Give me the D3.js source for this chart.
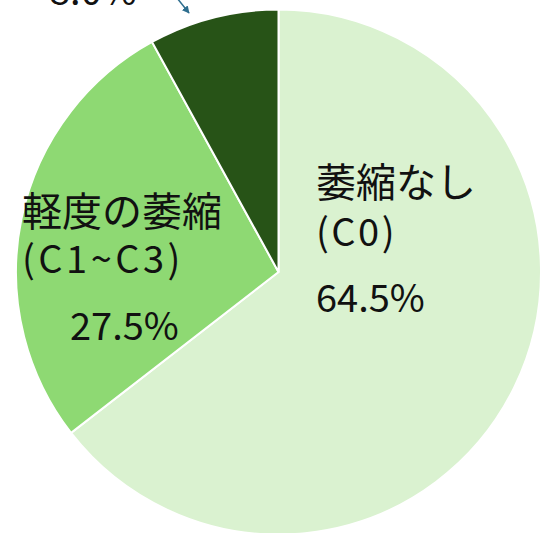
<!DOCTYPE html>
<html>
<head>
<meta charset="utf-8">
<script src="https://cdn.jsdelivr.net/npm/d3@7"></script>
<style>
  body { margin: 0; background: #fff; }
  svg { display: block; }
</style>
</head>
<body>
<div class="chart"></div>
<script>
// Données du graphique
const categories = ['萎縮なし (C0)', '軽度の萎縮 (C1~C3)', 'その他'];
const values = [64.5, 27.5, 8.0];
const valueLabels = ['64.5%', '27.5%', '8.0%'];
const colors = ['#daf2d0', '#8ed973', '#275317'];

// Paramètres
const width = 544;
const height = 533;
const cx = 278.5;
const cy = 272;
const radius = 262.5;

const svg = d3.select('.chart')
  .append('svg')
  .attr('width', width)
  .attr('height', height)
  .style('font-family', '"Noto Sans CJK JP", "Noto Sans", sans-serif');

const pie = d3.pie().sort(null).value(d => d);
const arc = d3.arc().innerRadius(0).outerRadius(radius);

const g = svg.append('g').attr('transform', `translate(${cx}, ${cy})`);

g.selectAll('path')
  .data(pie(values))
  .join('path')
    .attr('d', arc)
    .attr('fill', (d, i) => colors[i])
    .attr('stroke', '#fff')
    .attr('stroke-width', 2);

// Etiquettes (positions de mise en page)
const labelLines = [
  { text: '萎縮なし', x: 316, y: 197, size: 40, ls: 0 },
  { text: '(C0)', x: 316, y: 246, size: 38, ls: 2.5 },
  { text: valueLabels[0], x: 316, y: 312, size: 38, ls: 0 },
  { text: '軽度の萎縮', x: 22, y: 226, size: 40, ls: 0 },
  { text: '(C1~C3)', x: 22, y: 273, size: 38, ls: 3.5 },
  { text: valueLabels[1], x: 70, y: 340, size: 38, ls: 0 },
  { text: valueLabels[2], x: 49, y: 5, size: 38, ls: 0 }
];

svg.append('g')
  .selectAll('text')
  .data(labelLines)
  .join('text')
    .attr('x', d => d.x)
    .attr('y', d => d.y)
    .attr('fill', '#111')
    .style('font-size', d => d.size + 'px')
    .style('letter-spacing', d => d.ls + 'px')
    .text(d => d.text);

// Ligne de rappel pour 8.0%
svg.append('defs').append('marker')
  .attr('id', 'arrow')
  .attr('viewBox', '0 0 10 10')
  .attr('refX', 9).attr('refY', 5)
  .attr('markerWidth', 5).attr('markerHeight', 5)
  .attr('orient', 'auto')
  .append('path')
    .attr('d', 'M0,0 L10,5 L0,10 z')
    .attr('fill', '#2e6e8e');

svg.append('line')
  .attr('x1', 177).attr('y1', -2)
  .attr('x2', 189).attr('y2', 13)
  .attr('stroke', '#2e6e8e')
  .attr('stroke-width', 1.5)
  .attr('marker-end', 'url(#arrow)');
</script>
</body>
</html>
